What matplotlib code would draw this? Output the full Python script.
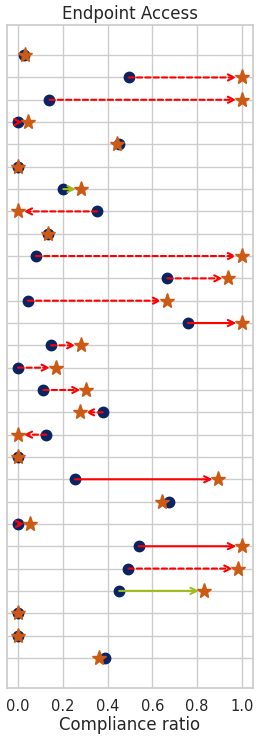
import numpy as np
import matplotlib
matplotlib.use("Agg")
import matplotlib.pyplot as plt
import seaborn as sns

# values, top row first
before = [0.025, 0.494, 0.14, 0.0, 0.451, 0.0, 0.202, 0.353, 0.132, 0.079,
          0.667, 0.043, 0.759, 0.147, 0.0, 0.113, 0.378, 0.126, 0.0, 0.253,
          0.674, 0.0, 0.539, 0.493, 0.452, 0.0, 0.0, 0.387]
after = [0.03, 1.0, 1.0, 0.045, 0.443, 0.0, 0.283, 0.0, 0.132, 1.0,
         0.939, 0.665, 1.0, 0.281, 0.167, 0.304, 0.277, 0.0, 0.0, 0.894,
         0.641, 0.052, 1.0, 0.984, 0.833, 0.0, 0.0, 0.36]
# arrow kind per row: '' none, 'd' red dashed, 's' red solid, 'g' green solid
kind = ['', 'd', 'd', 'd', '', '', 'g', 'd', '', 'd',
        'd', 'd', 's', 'd', 'd', 'd', 'd', 'd', '', 's',
        '', 'd', 's', 'd', 'g', '', '', '']

sns.set_theme(style="whitegrid")
plt.rcParams['font.family'] = ['DejaVu Sans']

fig = plt.figure(figsize=(2.6, 7.37), dpi=100)
ax = fig.add_axes([7 / 260, 1 - 688 / 737, 246 / 260, 663 / 737])

n = len(before)
y = np.arange(n)

ax.plot(before, y, 'o', color='#0a2463', markersize=7.5, zorder=2)
ax.plot(after, y, '*', color='#cc5a14', markersize=11, zorder=4)

for i in range(n):
    k = kind[i]
    if not k:
        continue
    if k == 'g':
        col, ls = '#9fba1c', '-'
    elif k == 's':
        col, ls = 'red', '-'
    else:
        col, ls = 'red', (0, (2.5, 1.5))
    ax.annotate('', xy=(after[i], y[i]), xytext=(before[i], y[i]),
                arrowprops=dict(arrowstyle='->', color=col, lw=1.5,
                                linestyle=ls, shrinkA=0, shrinkB=4,
                                mutation_scale=11),
                zorder=3)

ax.set_yticks(y)
ax.set_yticklabels([])
ax.set_xticks([0.0, 0.2, 0.4, 0.6, 0.8, 1.0])
ax.set_xlim(-0.05, 1.05)
ax.set_ylim(n - 1 + 1.35, -1.35)
ax.tick_params(axis='x', labelsize=10.5, pad=2)
ax.set_xlabel('Compliance ratio', fontsize=12, labelpad=1)
ax.set_title('Endpoint Access', fontsize=12, pad=4)

fig.savefig('out.png', dpi=100)
